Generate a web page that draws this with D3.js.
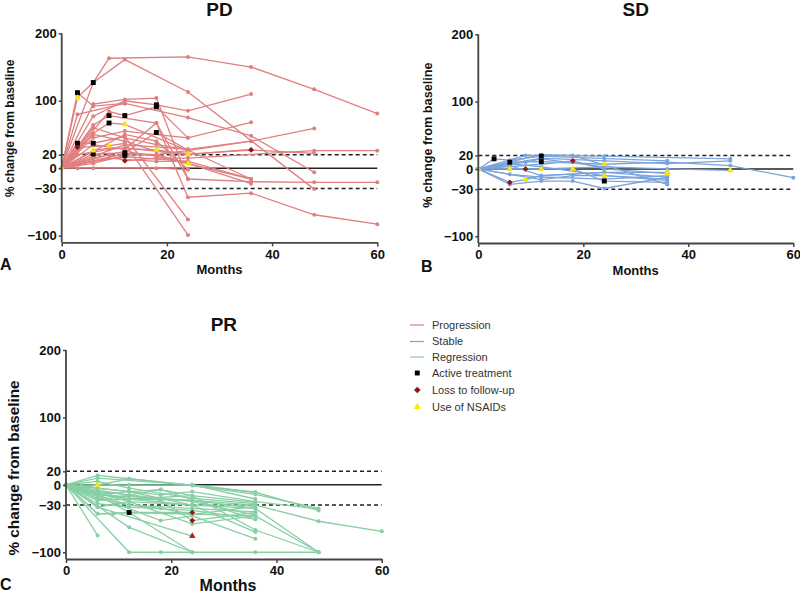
<!DOCTYPE html>
<html><head><meta charset="utf-8">
<script src="https://cdn.jsdelivr.net/npm/d3@7"></script>
<style>
body{margin:0;background:#fff}
svg{display:block}
text{font-family:"Liberation Sans",Arial,Helvetica,sans-serif}
</style>
</head><body>
<svg id="chart" width="800" height="593"></svg>
<script>
// ---------- data ----------
const xTicks = [0, 20, 40, 60];
const yTicks = [-100, -30, 0, 20, 100, 200];
const refDashed = [20, -30];

// PD: each subject is a list of [month, % change]
const pdSubjects = [
  [[0,0],[6,127],[9,163],[24,165],[36,150],[48,117],[60,81]],
  [[0,0],[3,105],[6,127],[12,161],[24,113],[48,-31]],
  [[0,0],[6,95],[12,102],[18,104],[24,-16],[36,-20],[48,-21],[60,-21]],
  [[0,0],[3,80],[12,96],[24,75],[36,48],[48,-6]],
  [[0,0],[6,77],[12,100],[18,94],[24,85],[36,110]],
  [[0,0],[9,84],[12,78],[18,91],[24,45],[36,68]],
  [[0,0],[6,64],[9,78],[18,67],[24,-43],[36,-37],[48,-69],[60,-83]],
  [[0,0],[6,52],[9,67],[12,65],[24,26],[36,40],[48,59]],
  [[0,0],[3,37],[6,37],[12,47],[24,-76]],
  [[0,0],[3,31],[9,33],[12,37],[24,-99]],
  [[0,0],[6,26],[9,30],[18,27],[24,21],[36,27],[48,22]],
  [[0,0],[6,21],[12,23],[18,53],[24,27],[36,-16]],
  [[0,0],[6,7],[12,19],[18,20],[24,7],[36,-23]],
  [[0,0],[9,20],[12,11],[18,15],[24,15],[48,26],[60,26]],
  [[0,0],[3,0],[6,0],[18,0],[24,-2]],
  [[0,0],[6,45],[12,55],[24,45]],
  [[0,0],[12,35],[24,28],[36,40]],
  [[0,0],[6,15],[12,25],[18,18],[36,-16]],
  [[0,0],[12,22],[18,20],[24,26]],
  [[0,0],[6,10],[12,17],[24,10]],
  [[0,0],[3,112],[6,92],[12,96]],
  [[0,0],[6,50],[12,40],[18,25],[24,22]],
  [[0,0],[3,20],[9,28],[12,30],[24,20],[36,28]],
  [[0,0],[6,35],[12,28],[18,67],[24,-16]],
  [[0,0],[9,15],[12,13],[18,10],[24,10],[36,-16]],
  [[0,0],[6,60],[12,45],[18,35],[24,28]],
  [[0,0],[12,50],[18,40],[24,-2]]
];
const pdActive = [[3,112],[3,37],[6,127],[6,37],[6,21],[9,78],[9,67],[12,78],[12,23],[12,19],[18,94],[18,91],[18,53]];
const pdLoss   = [[3,31],[12,11],[36,27]];
const pdNsaid  = [[0,0],[3,104],[6,26],[9,33],[12,65],[18,27],[24,21],[24,7]];

// SD
const sdSubjects = [
  [[0,0],[12,21],[24,19],[48,15]],
  [[0,0],[3,15],[6,13],[12,19],[36,12]],
  [[0,0],[6,10],[12,11],[24,7],[36,10],[48,5],[60,-13]],
  [[0,0],[6,0],[9,0],[12,0],[24,3],[36,0],[48,-2]],
  [[0,0],[6,-20],[9,-16],[12,-10],[24,-5],[36,-5]],
  [[0,0],[6,-23],[12,-18],[18,-18],[24,-29],[36,-12]],
  [[0,0],[9,20],[18,20],[36,-23]],
  [[0,0],[12,7],[18,12],[24,0],[36,-7]],
  [[0,0],[12,-16],[18,-10],[24,-10],[36,-17]],
  [[0,0],[6,0],[18,0],[24,-18],[36,-20]],
  [[0,0],[6,5],[12,-10],[24,-5],[36,-12]],
  [[0,0],[9,10],[12,15],[24,3]],
  [[0,0],[6,8],[12,3],[24,-10],[36,-15]],
  [[0,0],[6,-8],[12,-12],[24,-15],[36,-10]],
  [[0,0],[12,16],[24,12],[36,8],[48,12]]
];
const sdActive = [[3,15],[6,10],[12,19],[12,11],[24,-18]];
const sdLoss   = [[6,-20],[9,0],[18,12]];
const sdNsaid  = [[0,0],[6,0],[9,-16],[12,0],[18,0],[24,7],[24,-10],[36,-5],[36,-7],[48,-2]];

// PR
const prSubjects = [
  [[0,0],[6,14],[12,9],[24,-1],[36,-14],[48,-35]],
  [[0,0],[6,10],[24,0],[36,-11],[48,-38]],
  [[0,0],[3,0],[6,0],[12,0],[24,0],[36,-21]],
  [[0,0],[6,-15],[12,-10],[18,-7],[24,-16],[36,-26]],
  [[0,0],[6,-23],[12,-21],[24,-23],[36,-30],[48,-54],[60,-69]],
  [[0,0],[6,-33],[12,-25],[24,-30],[36,-35]],
  [[0,0],[6,-43],[9,-43],[12,-41],[24,-41]],
  [[0,0],[6,-75]],
  [[0,0],[12,-63],[24,-100]],
  [[0,0],[12,-100],[18,-100],[24,-100],[36,-100],[48,-100]],
  [[0,0],[18,-53],[24,-46],[36,-80]],
  [[0,0],[18,-23],[24,-53],[36,-41]],
  [[0,0],[12,-25],[24,-58],[36,-46],[48,-100]],
  [[0,0],[6,-15],[12,-41],[24,-100]],
  [[0,0],[12,-21],[24,-16],[36,-67],[48,-100]],
  [[0,0],[6,-23],[18,-7],[36,-51]],
  [[0,0],[6,-33],[24,-76]],
  [[0,0],[12,-10],[24,-30],[36,-70]],
  [[0,0],[6,-15],[24,-23],[36,-35],[48,-100]],
  [[0,0],[3,-5],[12,9],[36,-11]],
  [[0,0],[6,-43],[12,-41],[36,-46]],
  [[0,0],[3,-10],[12,-21],[24,-30],[36,-30]],
  [[0,0],[6,-20],[12,-30],[24,-35],[36,-40]],
  [[0,0],[6,-10],[12,-15],[24,-25],[36,-45]],
  [[0,0],[6,-28],[12,-33],[24,-38],[36,-51]],
  [[0,0],[6,5],[12,-5],[24,-20],[36,-28]],
  [[0,0],[12,-30],[18,-35],[24,-44],[36,-32]],
  [[0,0],[6,-5],[18,-15],[24,-10],[36,-25],[48,-36]]
];
const prActive  = [[12,-41]];
const prLoss    = [[24,-41],[24,-53]];
const prLossTri = [[24,-76]];
const prNsaid   = [[6,0]];

const legendItems = ["Progression","Stable","Regression","Active treatment","Loss to follow-up","Use of NSAIDs"];

// ---------- drawing ----------
const colors = {PD:"#e07f80", SD:"#7ba3dc", PR:"#88cfa4"};
const panels = [
  {key:"PD", letter:"A", subjects:pdSubjects, active:pdActive, loss:pdLoss, lossTri:[], nsaid:pdNsaid,
   x0:61.7, x1:377.3, yTop:33.3, yBot:242.4, titleY:15.5, letterX:0, letterY:270,
   monthsX:219.5, monthsY:274, monthsSize:13, ylabX:14, ylabY:128.3, ylabSize:12},
  {key:"SD", letter:"B", subjects:sdSubjects, active:sdActive, loss:sdLoss, lossTri:[], nsaid:sdNsaid,
   x0:478.3, x1:793.3, yTop:34.3, yBot:243, titleY:15.5, letterX:421, letterY:272,
   monthsX:635.7, monthsY:275, monthsSize:13, ylabX:431.5, ylabY:135, ylabSize:12.7},
  {key:"PR", letter:"C", subjects:prSubjects, active:prActive, loss:prLoss, lossTri:prLossTri, nsaid:prNsaid,
   x0:66, x1:381.7, yTop:350, yBot:559, titleY:330.5, letterX:0, letterY:590,
   monthsX:228, monthsY:591, monthsSize:16, ylabX:18.5, ylabY:468, ylabSize:15.3}
];

const svg = d3.select("#chart");
const sq = d3.symbol().type(d3.symbolSquare).size(24);
const dm = d3.symbol().type(d3.symbolSquare).size(16);
const tr = d3.symbol().type(d3.symbolTriangle).size(18);

panels.forEach(p => {
  const x = d3.scaleLinear().domain([0,60]).range([p.x0, p.x1]);
  const y = d3.scaleLinear().domain([-110,200]).range([p.yBot, p.yTop]);
  const g = svg.append("g");
  const col = colors[p.key];

  // reference lines
  g.append("line").attr("x1", x(0)).attr("x2", x(60)).attr("y1", y(0)).attr("y2", y(0))
    .attr("stroke","#222").attr("stroke-width",1.5);
  refDashed.forEach(v => {
    g.append("line").attr("x1", x(0)).attr("x2", x(60)).attr("y1", y(v)).attr("y2", y(v))
      .attr("stroke","#222").attr("stroke-width",1.5).attr("stroke-dasharray","4,3");
  });

  // subject lines
  const line = d3.line().x(d => x(d[0])).y(d => y(d[1]));
  g.append("g").selectAll("path").data(p.subjects).join("path")
    .attr("d", line).attr("fill","none").attr("stroke", col).attr("stroke-width",1.3);
  g.append("g").selectAll("circle").data(p.subjects.flat()).join("circle")
    .attr("cx", d => x(d[0])).attr("cy", d => y(d[1])).attr("r", 2).attr("fill", col);

  // overlays
  g.append("g").selectAll("path").data(p.active).join("path")
    .attr("d", sq).attr("transform", d => `translate(${x(d[0])},${y(d[1])})`).attr("fill","#000");
  g.append("g").selectAll("path").data(p.loss).join("path")
    .attr("d", dm).attr("transform", d => `translate(${x(d[0])},${y(d[1])}) rotate(45)`).attr("fill","#8b1a1a");
  g.append("g").selectAll("path").data(p.lossTri).join("path")
    .attr("d", tr).attr("transform", d => `translate(${x(d[0])},${y(d[1])})`).attr("fill","#b22222");
  g.append("g").selectAll("path").data(p.nsaid).join("path")
    .attr("d", tr).attr("transform", d => `translate(${x(d[0])},${y(d[1])})`).attr("fill","#ffe600");

  // axes
  const ya = g.append("g").attr("transform", `translate(${p.x0},0)`)
    .call(d3.axisLeft(y).tickValues(yTicks).tickSize(3).tickSizeOuter(0).tickPadding(2));
  const xa = g.append("g").attr("transform", `translate(0,${p.yBot})`)
    .call(d3.axisBottom(x).tickValues(xTicks).tickSize(4).tickSizeOuter(0).tickPadding(3));
  [ya, xa].forEach(a => {
    a.select(".domain").attr("stroke","#444").attr("stroke-width",1.8);
    a.selectAll(".tick line").attr("stroke","#444").attr("stroke-width",1.5);
    a.selectAll(".tick text").attr("fill","#111").style("font-size","13px").style("font-weight","bold")
      .style("font-family",'"Liberation Sans",Arial,sans-serif');
  });
  ya.select(".domain").attr("d", `M0,${y(200)}V${p.yBot}`);

  // titles and labels
  g.append("text").attr("x", (p.x0+p.x1)/2).attr("y", p.titleY).attr("text-anchor","middle")
    .style("font-size","19px").style("font-weight","bold").attr("fill","#111").text(p.key);
  g.append("text").attr("x", p.letterX).attr("y", p.letterY)
    .style("font-size","16px").style("font-weight","bold").attr("fill","#111").text(p.letter);
  g.append("text").attr("x", p.monthsX).attr("y", p.monthsY).attr("text-anchor","middle")
    .style("font-size", p.monthsSize+"px").style("font-weight","bold").attr("fill","#111").text("Months");
  g.append("text").attr("transform", `translate(${p.ylabX},${p.ylabY}) rotate(-90)`).attr("text-anchor","middle")
    .style("font-size", p.ylabSize+"px").style("font-weight","bold").attr("fill","#111").text("% change from baseline");
});

// legend
const lg = svg.append("g");
const legY = [325, 341.5, 357, 373, 390, 407];
const legendSym = [
  {t:"line", c:colors.PD}, {t:"line", c:colors.SD}, {t:"line", c:colors.PR},
  {t:"sq", c:"#000"}, {t:"dm", c:"#8b1a1a"}, {t:"tr", c:"#ffe600"}
];
legendItems.forEach((name, i) => {
  const s = legendSym[i];
  if (s.t === "line") {
    lg.append("line").attr("x1",410).attr("x2",424).attr("y1",legY[i]).attr("y2",legY[i])
      .attr("stroke", s.c).attr("stroke-width",1.2);
  } else {
    const sym = s.t === "sq" ? sq : s.t === "dm" ? d3.symbol().type(d3.symbolSquare).size(22) : d3.symbol().type(d3.symbolTriangle).size(22);
    lg.append("path").attr("d", sym())
      .attr("transform", `translate(417.3,${legY[i]})` + (s.t === "dm" ? " rotate(45)" : "")).attr("fill", s.c);
  }
  lg.append("text").attr("x",432).attr("y",legY[i]).attr("dy","0.35em")
    .style("font-size","11px").attr("fill","#333").text(name);
});
</script>
</body></html>
